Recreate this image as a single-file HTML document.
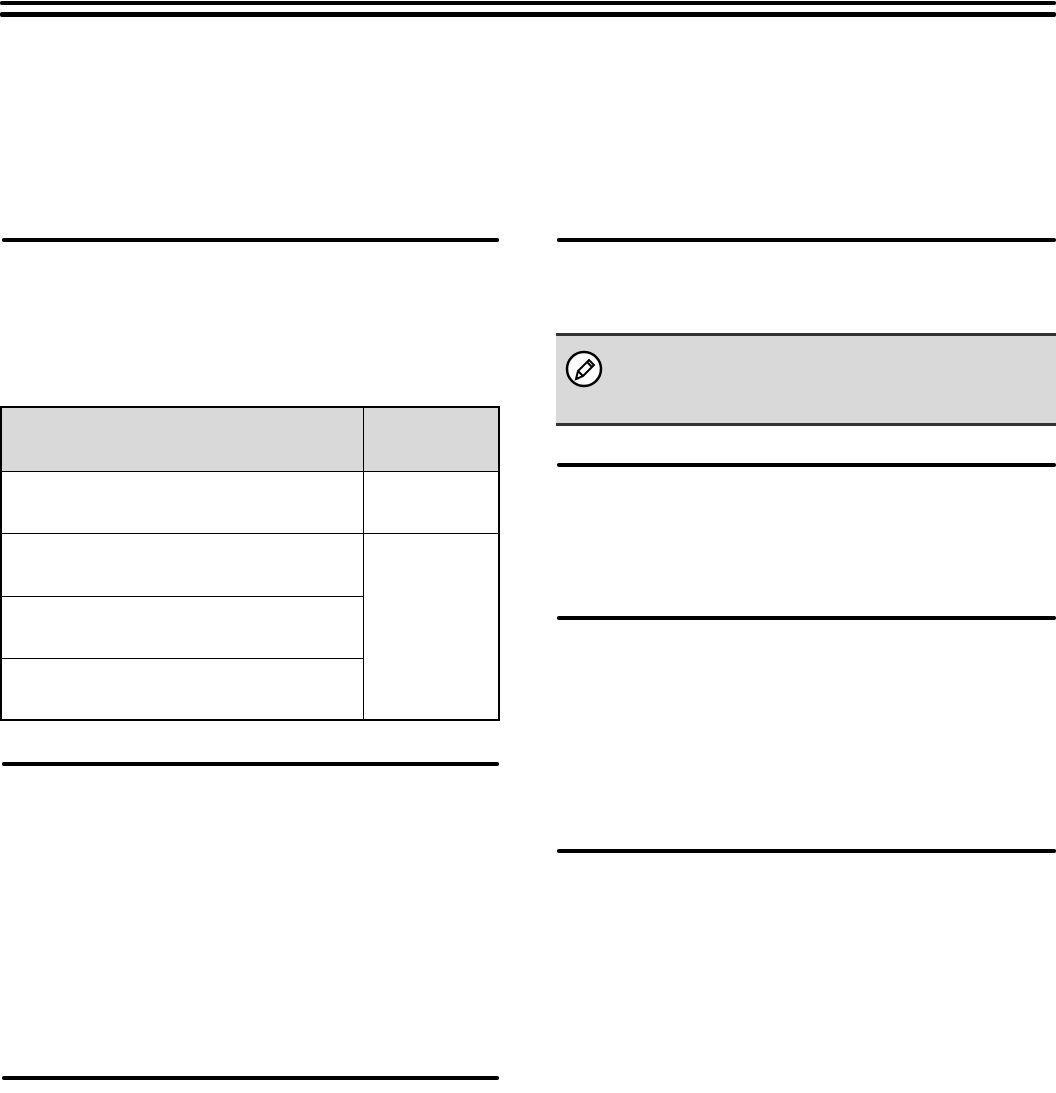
<!DOCTYPE html>
<html><head><style>
body{margin:0;width:1056px;height:1093px;background:#fff;position:relative;overflow:hidden;font-family:"Liberation Sans",sans-serif}
.r{position:absolute;background:#000;height:4px;border-radius:2px}
.a{position:absolute}
</style></head><body>
<div class="r" style="left:0;top:1px;width:1056px;height:4px"></div>
<div class="r" style="left:0;top:12px;width:1056px;height:5px"></div>
<div class="r" style="left:2px;top:238px;width:497px"></div>
<div class="r" style="left:557px;top:238px;width:499px"></div>
<div class="r" style="left:2px;top:762px;width:497px"></div>
<div class="r" style="left:2px;top:1076px;width:497px"></div>
<div class="r" style="left:557px;top:463px;width:499px"></div>
<div class="r" style="left:557px;top:616px;width:499px"></div>
<div class="r" style="left:557px;top:849px;width:499px"></div>
<div class="a" style="left:556px;top:333px;width:500px;height:87px;background:#d9d9d9;border-top:3px solid #333;border-bottom:3px solid #333"></div>
<svg class="a" style="left:565px;top:350px" width="40" height="40" viewBox="0 0 40 40">
<circle cx="19" cy="19" r="17" fill="#fff" stroke="#000" stroke-width="2.5"/>
<path d="M11 29 L13 21 L24 10 L29 15 L18 26 Z" fill="#fff" stroke="#000" stroke-width="2"/>
<path d="M13 21 L18 26 M22 12 L27 17 M11 29 L14 28" stroke="#000" stroke-width="2"/>
</svg>
<div class="a" style="left:0;top:406px;width:496px;height:311px;border:2px solid #000"></div>
<div class="a" style="left:2px;top:408px;width:496px;height:64px;background:#d9d9d9"></div>
<div class="a" style="left:2px;top:471px;width:496px;height:1px;background:#000"></div>
<div class="a" style="left:363px;top:408px;width:1px;height:311px;background:#000"></div>
<div class="a" style="left:2px;top:533px;width:496px;height:1px;background:#000"></div>
<div class="a" style="left:2px;top:596px;width:361px;height:1px;background:#000"></div>
<div class="a" style="left:2px;top:658px;width:361px;height:1px;background:#000"></div>
</body></html>
